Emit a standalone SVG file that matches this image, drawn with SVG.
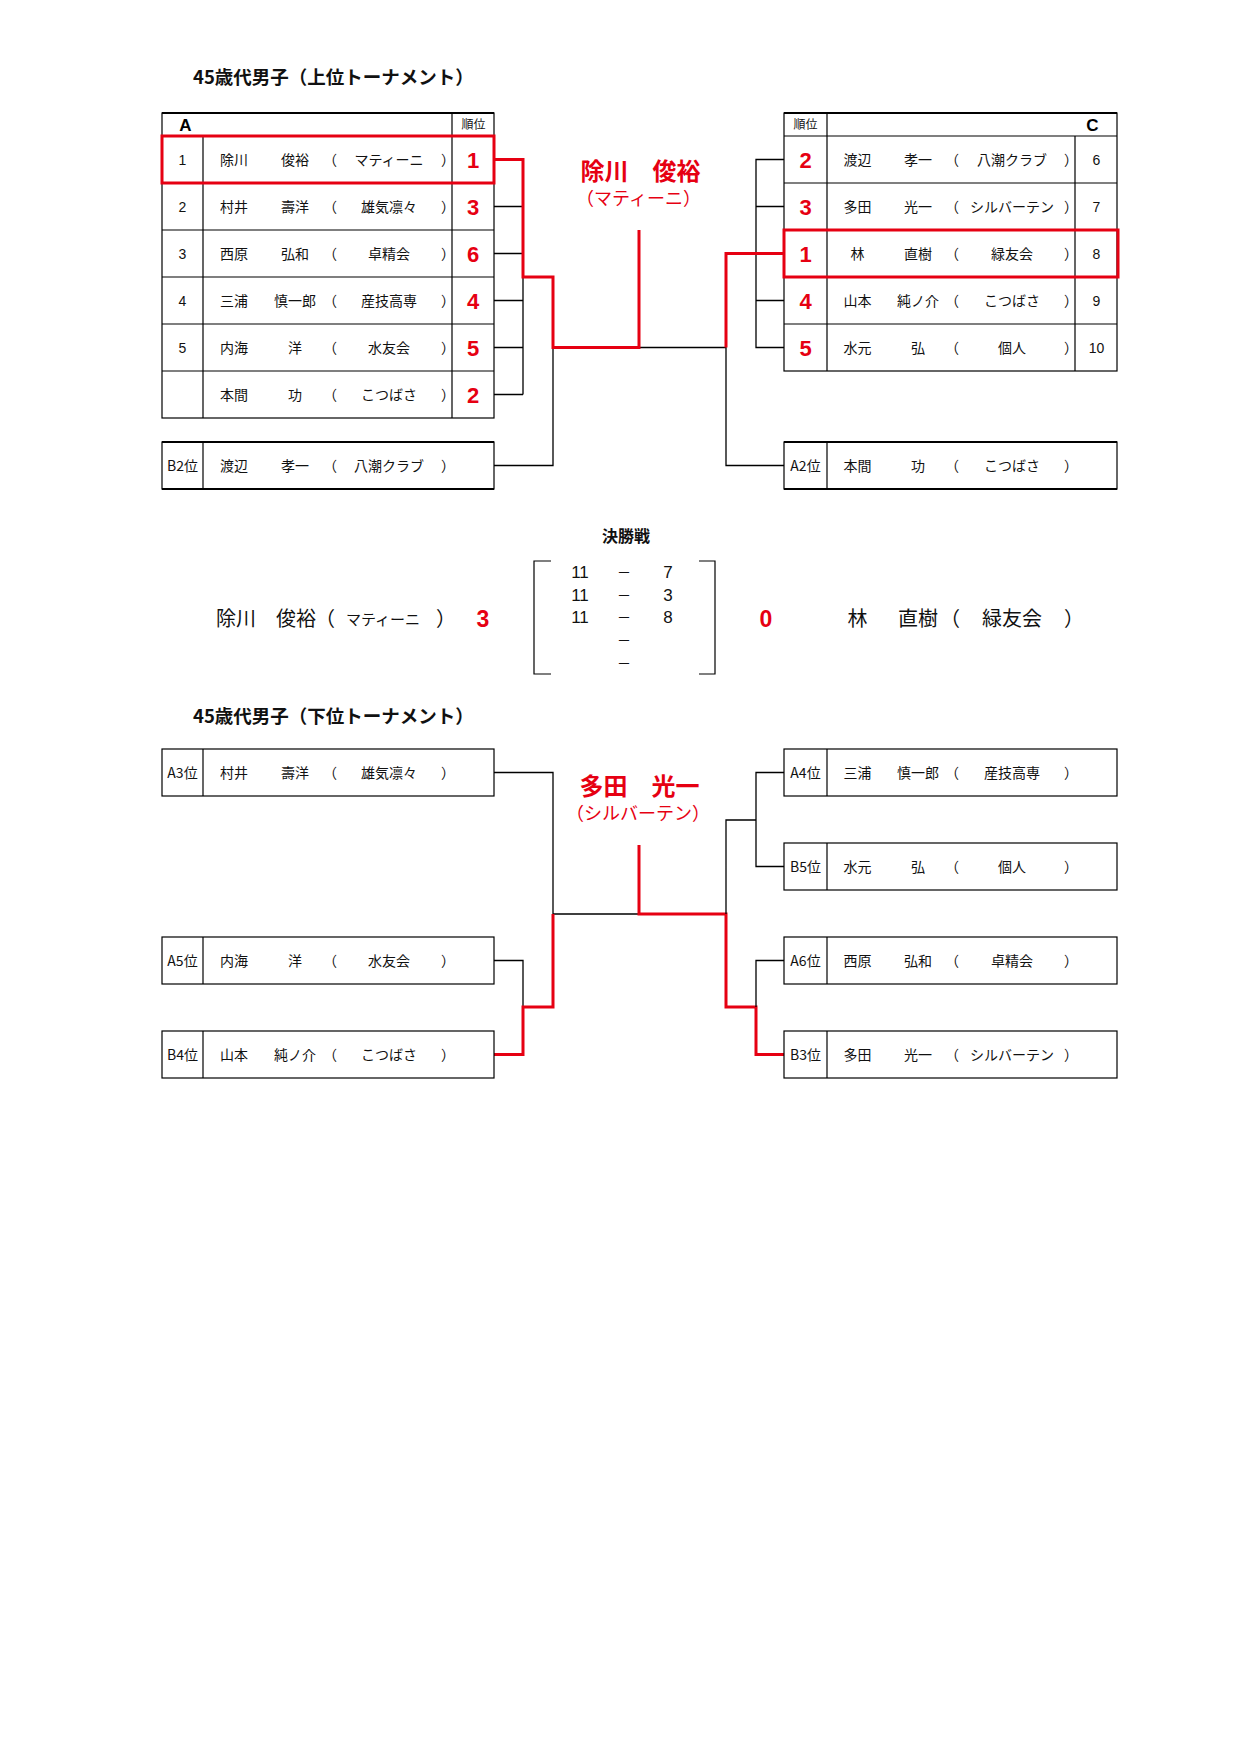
<svg xmlns="http://www.w3.org/2000/svg" width="1240" height="1754" viewBox="0 0 1240 1754">
<style>
.j{font-family:"Noto Sans CJK JP","Noto Sans CJK SC",sans-serif;font-size:14px;fill:#111;text-anchor:middle}
.n{font-family:"Liberation Sans",Arial,sans-serif;font-size:14px;fill:#111;text-anchor:middle}
.rk{font-family:"Liberation Sans",Arial,sans-serif;font-size:22px;font-weight:bold;fill:#e60012;text-anchor:middle}
.hd{font-family:"Liberation Sans",Arial,sans-serif;font-size:17px;font-weight:bold;fill:#000;text-anchor:middle}
.sm{font-family:"Noto Sans CJK JP",sans-serif;font-size:12px;fill:#111;text-anchor:middle}
.tt{font-family:"Noto Sans CJK JP",sans-serif;font-size:18.5px;font-weight:bold;fill:#111}
.ch{font-family:"Noto Sans CJK JP",sans-serif;font-size:24px;font-weight:bold;fill:#e60012;text-anchor:middle}
.cs{font-family:"Noto Sans CJK JP",sans-serif;font-size:18px;fill:#e60012;text-anchor:middle}
.fj{font-family:"Noto Sans CJK JP",sans-serif;font-size:20px;fill:#111;text-anchor:middle}
.fk{font-family:"Noto Sans CJK JP",sans-serif;font-size:15px;fill:#111;text-anchor:middle}
.sc{font-family:"Liberation Sans",Arial,sans-serif;font-size:17px;fill:#111;text-anchor:middle}
.ds{font-family:"Noto Sans CJK JP",sans-serif;font-size:14px;fill:#111;text-anchor:middle}
.kb{font-family:"Noto Sans CJK JP",sans-serif;font-size:16px;font-weight:bold;fill:#111;text-anchor:middle}
.fs{font-family:"Liberation Sans",Arial,sans-serif;font-size:23px;font-weight:bold;fill:#e60012;text-anchor:middle}
.b{fill:#fff;stroke:#000;stroke-width:1.2}
.t{stroke:#000;stroke-width:2.2;fill:none}
.g{stroke:#000;stroke-width:1.2;fill:none}
.ln{stroke:#000;stroke-width:1.3;fill:none}
.rl{stroke:#e60012;stroke-width:3;fill:none}
.rb{stroke:#e60012;stroke-width:3;fill:none}
</style>
<rect width="1240" height="1754" fill="#fff"/>

<text class="tt" x="193" y="84">45歳代男子（上位トーナメント）</text>
<text class="tt" x="193" y="723">45歳代男子（下位トーナメント）</text>

<g id="connectors">
  <path class="ln" d="M494,206.5H523M494,253.5H523M494,300.5H523M494,347.5H523M494,394.5H523M523,277V394.5"/>
  <path class="ln" d="M494,465.5H553V347.5"/>
  <path class="ln" d="M639,347.5H726V465.5H784"/>
  <path class="ln" d="M784,159.5H756V347.5H784M756,206.5H784M756,300.5H784"/>
  <path class="rl" d="M494,159.5H523V277H553V347.5H639V230"/>
  <path class="rl" d="M726,347.5V253.5H784"/>
  <path class="ln" d="M494,772.5H553V914H639"/>
  <path class="ln" d="M494,960.5H523V1007"/>
  <path class="rl" d="M494,1054.5H523V1007H553V914"/>
  <path class="rl" d="M639,845V914H726V1007H756V1054.5H784"/>
  <path class="ln" d="M726,914V820H756M784,772.5H756V866.5H784"/>
  <path class="ln" d="M784,960.5H756V1007"/>
</g>

<g id="tableA">
  <rect class="b" x="162" y="113" width="332" height="305"/>
  <path class="t" d="M162,113H494"/>
  <path class="g" d="M162,136H494M162,183H494M162,230H494M162,277H494M162,324H494M162,371H494M203,136V418M452,113V418"/>
  <text class="hd" x="185.5" y="131">A</text>
  <text class="sm" x="473.5" y="129">順位</text>
  <g id="a1"><text class="n" x="182.5" y="165">1</text><text class="j" x="234" y="165">除川</text><text class="j" x="295" y="165">俊裕</text><text class="j" x="330" y="165">（</text><text class="j" x="389" y="165">マティーニ</text><text class="j" x="448" y="165">）</text><text class="rk" x="473" y="167.5">1</text></g>
  <g id="a2"><text class="n" x="182.5" y="212">2</text><text class="j" x="234" y="212">村井</text><text class="j" x="295" y="212">壽洋</text><text class="j" x="330" y="212">（</text><text class="j" x="389" y="212">雄気凛々</text><text class="j" x="448" y="212">）</text><text class="rk" x="473" y="214.5">3</text></g>
  <g id="a3"><text class="n" x="182.5" y="259">3</text><text class="j" x="234" y="259">西原</text><text class="j" x="295" y="259">弘和</text><text class="j" x="330" y="259">（</text><text class="j" x="389" y="259">卓精会</text><text class="j" x="448" y="259">）</text><text class="rk" x="473" y="261.5">6</text></g>
  <g id="a4"><text class="n" x="182.5" y="306">4</text><text class="j" x="234" y="306">三浦</text><text class="j" x="295" y="306">慎一郎</text><text class="j" x="330" y="306">（</text><text class="j" x="389" y="306">産技高専</text><text class="j" x="448" y="306">）</text><text class="rk" x="473" y="308.5">4</text></g>
  <g id="a5"><text class="n" x="182.5" y="353">5</text><text class="j" x="234" y="353">内海</text><text class="j" x="295" y="353">洋</text><text class="j" x="330" y="353">（</text><text class="j" x="389" y="353">水友会</text><text class="j" x="448" y="353">）</text><text class="rk" x="473" y="355.5">5</text></g>
  <g id="a6"><text class="j" x="234" y="400">本間</text><text class="j" x="295" y="400">功</text><text class="j" x="330" y="400">（</text><text class="j" x="389" y="400">こつばさ</text><text class="j" x="448" y="400">）</text><text class="rk" x="473" y="402.5">2</text></g>
  <rect class="rb" x="162" y="136" width="332" height="47"/>
</g>

<g id="boxB2">
  <rect class="b" x="162" y="442" width="332" height="47"/>
  <path class="t" d="M162,442H494M162,489H494"/>
  <path class="g" d="M203,442V489"/>
  <text class="j" x="182.5" y="471">B2位</text><text class="j" x="234" y="471">渡辺</text><text class="j" x="295" y="471">孝一</text><text class="j" x="330" y="471">（</text><text class="j" x="389" y="471">八潮クラブ</text><text class="j" x="448" y="471">）</text>
</g>

<g id="tableC">
  <rect class="b" x="784" y="113" width="333" height="258"/>
  <path class="t" d="M784,113H1117"/>
  <path class="g" d="M784,136H1117M784,183H1117M784,230H1117M784,277H1117M784,324H1117M827,113V371M1075,136V371"/>
  <text class="sm" x="805.5" y="129">順位</text>
  <text class="hd" x="1092.5" y="131">C</text>
  <g id="c1"><text class="rk" x="805.5" y="167.5">2</text><text class="j" x="857.5" y="165">渡辺</text><text class="j" x="918" y="165">孝一</text><text class="j" x="952" y="165">（</text><text class="j" x="1012" y="165">八潮クラブ</text><text class="j" x="1071" y="165">）</text><text class="n" x="1096.5" y="165">6</text></g>
  <g id="c2"><text class="rk" x="805.5" y="214.5">3</text><text class="j" x="857.5" y="212">多田</text><text class="j" x="918" y="212">光一</text><text class="j" x="952" y="212">（</text><text class="j" x="1012" y="212">シルバーテン</text><text class="j" x="1071" y="212">）</text><text class="n" x="1096.5" y="212">7</text></g>
  <g id="c3"><text class="rk" x="805.5" y="261.5">1</text><text class="j" x="857.5" y="259">林</text><text class="j" x="918" y="259">直樹</text><text class="j" x="952" y="259">（</text><text class="j" x="1012" y="259">緑友会</text><text class="j" x="1071" y="259">）</text><text class="n" x="1096.5" y="259">8</text></g>
  <g id="c4"><text class="rk" x="805.5" y="308.5">4</text><text class="j" x="857.5" y="306">山本</text><text class="j" x="918" y="306">純ノ介</text><text class="j" x="952" y="306">（</text><text class="j" x="1012" y="306">こつばさ</text><text class="j" x="1071" y="306">）</text><text class="n" x="1096.5" y="306">9</text></g>
  <g id="c5"><text class="rk" x="805.5" y="355.5">5</text><text class="j" x="857.5" y="353">水元</text><text class="j" x="918" y="353">弘</text><text class="j" x="952" y="353">（</text><text class="j" x="1012" y="353">個人</text><text class="j" x="1071" y="353">）</text><text class="n" x="1096.5" y="353">10</text></g>
  <rect class="rb" x="784" y="230" width="334" height="47"/>
</g>

<g id="boxA2">
  <rect class="b" x="784" y="442" width="333" height="47"/>
  <path class="t" d="M784,442H1117M784,489H1117"/>
  <path class="g" d="M827,442V489"/>
  <text class="j" x="805.5" y="471">A2位</text><text class="j" x="857.5" y="471">本間</text><text class="j" x="918" y="471">功</text><text class="j" x="952" y="471">（</text><text class="j" x="1012" y="471">こつばさ</text><text class="j" x="1071" y="471">）</text>
</g>

<g id="champion-upper">
  <text class="ch" x="640.5" y="180">除川　俊裕</text>
  <text class="cs" x="638.5" y="205">（マティーニ）</text>
</g>

<g id="final">
  <text class="kb" x="626" y="542">決勝戦</text>
  <path class="g" d="M551,561H534V674H551M699,561H715V674H699"/>
  <text class="sc" x="580" y="578">11</text><text class="ds" x="624" y="577">－</text><text class="sc" x="668" y="578">7</text>
  <text class="sc" x="580" y="600.5">11</text><text class="ds" x="624" y="599.5">－</text><text class="sc" x="668" y="600.5">3</text>
  <text class="sc" x="580" y="623">11</text><text class="ds" x="624" y="622">－</text><text class="sc" x="668" y="623">8</text>
  <text class="ds" x="624" y="645">－</text>
  <text class="ds" x="624" y="668">－</text>
  <g id="finalist-left">
    <text class="fj" x="236" y="626">除川</text><text class="fj" x="296" y="626">俊裕</text><text class="fj" x="325" y="626">（</text><text class="fk" x="383" y="625">マティーニ</text><text class="fj" x="446" y="626">）</text>
    <text class="fs" x="483" y="627">3</text>
  </g>
  <g id="finalist-right">
    <text class="fs" x="766" y="627">0</text>
    <text class="fj" x="857.5" y="626">林</text><text class="fj" x="918" y="626">直樹</text><text class="fj" x="950" y="626">（</text><text class="fj" x="1012" y="626" font-size="18">緑友会</text><text class="fj" x="1074" y="626">）</text>
  </g>
</g>

<g id="boxA3">
  <rect class="b" x="162" y="749" width="332" height="47"/><path class="g" d="M203,749V796"/>
  <text class="j" x="182.5" y="778">A3位</text><text class="j" x="234" y="778">村井</text><text class="j" x="295" y="778">壽洋</text><text class="j" x="330" y="778">（</text><text class="j" x="389" y="778">雄気凛々</text><text class="j" x="448" y="778">）</text>
</g>
<g id="boxA5">
  <rect class="b" x="162" y="937" width="332" height="47"/><path class="g" d="M203,937V984"/>
  <text class="j" x="182.5" y="966">A5位</text><text class="j" x="234" y="966">内海</text><text class="j" x="295" y="966">洋</text><text class="j" x="330" y="966">（</text><text class="j" x="389" y="966">水友会</text><text class="j" x="448" y="966">）</text>
</g>
<g id="boxB4">
  <rect class="b" x="162" y="1031" width="332" height="47"/><path class="g" d="M203,1031V1078"/>
  <text class="j" x="182.5" y="1060">B4位</text><text class="j" x="234" y="1060">山本</text><text class="j" x="295" y="1060">純ノ介</text><text class="j" x="330" y="1060">（</text><text class="j" x="389" y="1060">こつばさ</text><text class="j" x="448" y="1060">）</text>
</g>
<g id="boxA4">
  <rect class="b" x="784" y="749" width="333" height="47"/><path class="g" d="M827,749V796"/>
  <text class="j" x="805.5" y="778">A4位</text><text class="j" x="857.5" y="778">三浦</text><text class="j" x="918" y="778">慎一郎</text><text class="j" x="952" y="778">（</text><text class="j" x="1012" y="778">産技高専</text><text class="j" x="1071" y="778">）</text>
</g>
<g id="boxB5">
  <rect class="b" x="784" y="843" width="333" height="47"/><path class="g" d="M827,843V890"/>
  <text class="j" x="805.5" y="872">B5位</text><text class="j" x="857.5" y="872">水元</text><text class="j" x="918" y="872">弘</text><text class="j" x="952" y="872">（</text><text class="j" x="1012" y="872">個人</text><text class="j" x="1071" y="872">）</text>
</g>
<g id="boxA6">
  <rect class="b" x="784" y="937" width="333" height="47"/><path class="g" d="M827,937V984"/>
  <text class="j" x="805.5" y="966">A6位</text><text class="j" x="857.5" y="966">西原</text><text class="j" x="918" y="966">弘和</text><text class="j" x="952" y="966">（</text><text class="j" x="1012" y="966">卓精会</text><text class="j" x="1071" y="966">）</text>
</g>
<g id="boxB3">
  <rect class="b" x="784" y="1031" width="333" height="47"/><path class="g" d="M827,1031V1078"/>
  <text class="j" x="805.5" y="1060">B3位</text><text class="j" x="857.5" y="1060">多田</text><text class="j" x="918" y="1060">光一</text><text class="j" x="952" y="1060">（</text><text class="j" x="1012" y="1060">シルバーテン</text><text class="j" x="1071" y="1060">）</text>
</g>

<g id="champion-lower">
  <text class="ch" x="639.5" y="795">多田　光一</text>
  <text class="cs" x="638" y="820">（シルバーテン）</text>
</g>
</svg>
